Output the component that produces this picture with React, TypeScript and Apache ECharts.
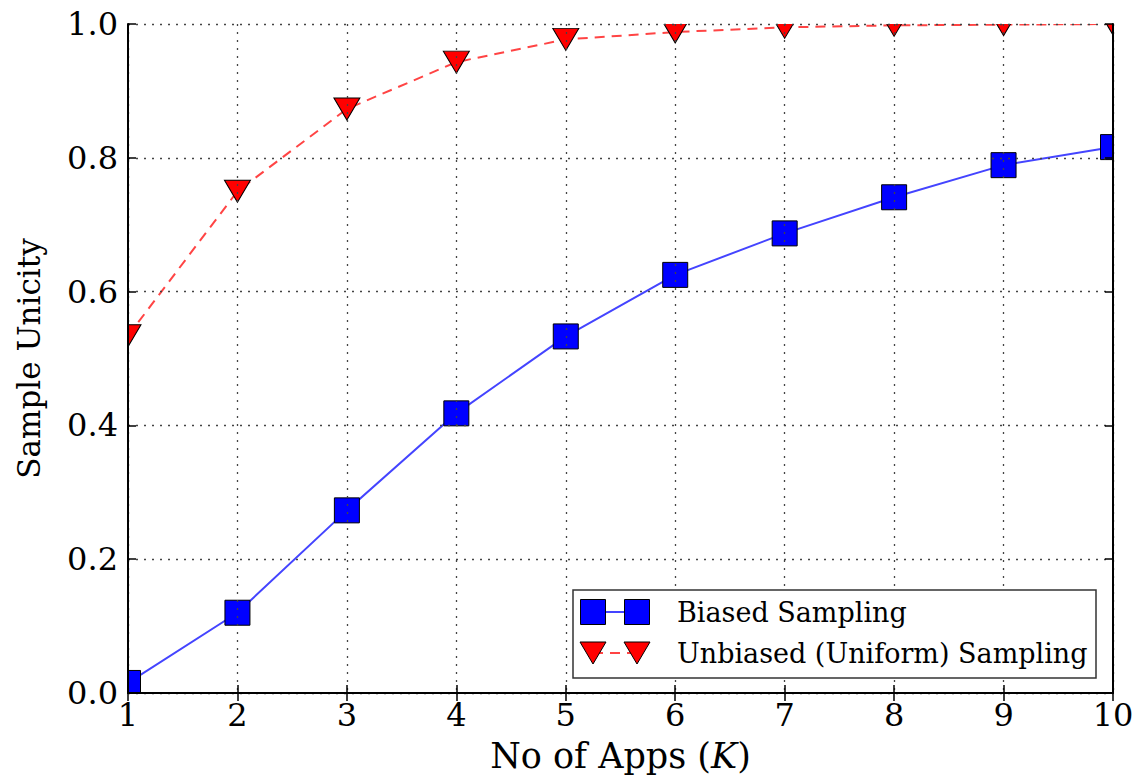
import React, { useEffect, useRef } from "react";
import * as echarts from "echarts";

// Number of apps K on the x axis
const apps = [1, 2, 3, 4, 5, 6, 7, 8, 9, 10];
// Sample unicity for each sampling strategy
const biasedSampling = [0.015, 0.12, 0.273, 0.418, 0.533, 0.625, 0.687, 0.741, 0.789, 0.816];
const unbiasedSampling = [0.534, 0.75, 0.873, 0.943, 0.977, 0.988, 0.995, 0.998, 0.999, 1.0];

const seriesNames = ["Biased Sampling", "Unbiased (Uniform) Sampling"];

const FONT = "DejaVu Serif";
const W = 1136;
const H = 781;
const GRID = { left: 128, top: 24, right: 1113, bottom: 693 };

export default function App() {
  const ref = useRef<HTMLDivElement>(null);

  useEffect(() => {
    if (!ref.current) return;
    const chart = echarts.init(ref.current, null, { renderer: "svg" });

    const tick = { show: true, inside: true, length: 8, lineStyle: { color: "#000", width: 1.5 } };
    const axisLine = { show: true, lineStyle: { color: "#000", width: 2 } };
    const gridLine = { show: true, lineStyle: { color: "#444", width: 1.3, type: [2, 6] as number[] } };

    // White masks outside the plot area so markers on the frame look clipped
    const masks = [
      { x: 0, y: 0, width: W, height: GRID.top },
      { x: 0, y: GRID.bottom, width: W, height: H - GRID.bottom },
      { x: 0, y: 0, width: GRID.left, height: H },
      { x: GRID.right, y: 0, width: W - GRID.right, height: H },
    ].map((r) => ({
      type: "rect",
      z: 5,
      silent: true,
      shape: r,
      style: { fill: "#fff" },
    }));

    // Legend box with two markers joined by the series line
    const lgX = 573, lgY = 590, lgW = 523, lgH = 88;
    const m1 = 593, m2 = 637, row1 = 612, row2 = 653, textX = 677;
    const legend = {
      type: "group",
      z: 20,
      children: [
        {
          type: "rect",
          z: 20,
          shape: { x: lgX, y: lgY, width: lgW, height: lgH },
          style: { fill: "#fff", stroke: "#333", lineWidth: 1.5 },
        },
        {
          type: "line",
          z: 21,
          shape: { x1: m1, y1: row1, x2: m2, y2: row1 },
          style: { stroke: "#4444ff", lineWidth: 2 },
        },
        ...[m1, m2].map((cx) => ({
          type: "rect",
          z: 22,
          shape: { x: cx - 12.5, y: row1 - 12.5, width: 25, height: 25 },
          style: { fill: "#0000ff", stroke: "#000", lineWidth: 1 },
        })),
        {
          type: "line",
          z: 21,
          shape: { x1: m1, y1: row2, x2: m2, y2: row2 },
          style: { stroke: "#ff4444", lineWidth: 2, lineDash: [10, 7] },
        },
        ...[m1, m2].map((cx) => ({
          type: "polygon",
          z: 22,
          shape: {
            points: [
              [cx - 13, row2 - 11],
              [cx + 13, row2 - 11],
              [cx, row2 + 11],
            ],
          },
          style: { fill: "#ff0000", stroke: "#000", lineWidth: 1 },
        })),
        ...seriesNames.map((name, i) => ({
          type: "text",
          z: 22,
          x: textX,
          y: i === 0 ? row1 : row2,
          style: {
            text: name,
            font: `27px '${FONT}'`,
            fill: "#000",
            textVerticalAlign: "middle",
            verticalAlign: "middle",
          },
        })),
      ],
    };

    const toPairs = (ys: number[]) => apps.map((x, i) => [x, ys[i]]);

    chart.setOption({
      animation: false,
      backgroundColor: "#fff",
      textStyle: { fontFamily: FONT },
      grid: {
        left: GRID.left,
        top: GRID.top,
        width: GRID.right - GRID.left,
        height: GRID.bottom - GRID.top,
        containLabel: false,
        outerBoundsMode: "none",
      },
      xAxis: [
        {
          type: "value",
          min: 1,
          max: 10,
          interval: 1,
          z: 10,
          axisLine,
          axisTick: tick,
          splitLine: gridLine,
          axisLabel: { color: "#000", fontSize: 32, fontFamily: FONT, margin: 6 },
          name: "No of Apps ({k|K})",
          nameLocation: "middle",
          nameGap: 45,
          nameTextStyle: {
            color: "#000",
            fontSize: 35,
            fontFamily: FONT,
            rich: { k: { fontStyle: "italic", fontSize: 35, fontFamily: FONT, color: "#000" } },
          },
        },
        {
          type: "value",
          position: "top",
          min: 1,
          max: 10,
          interval: 1,
          z: 10,
          axisLine,
          axisTick: tick,
          splitLine: { show: false },
          axisLabel: { show: false },
        },
      ],
      yAxis: [
        {
          type: "value",
          min: 0,
          max: 1,
          interval: 0.2,
          z: 10,
          axisLine,
          axisTick: tick,
          splitLine: gridLine,
          axisLabel: {
            color: "#000",
            fontSize: 32,
            fontFamily: FONT,
            margin: 10,
            formatter: (v: number) => v.toFixed(1),
          },
          name: "Sample Unicity",
          nameLocation: "middle",
          nameGap: 84,
          nameTextStyle: { color: "#000", fontSize: 31, fontFamily: FONT },
        },
        {
          type: "value",
          position: "right",
          min: 0,
          max: 1,
          interval: 0.2,
          z: 10,
          axisLine,
          axisTick: tick,
          splitLine: { show: false },
          axisLabel: { show: false },
        },
      ],
      graphic: { elements: [...masks, legend] },
      series: [
        {
          name: seriesNames[0],
          type: "line",
          xAxisIndex: 0,
          yAxisIndex: 0,
          clip: false,
          data: toPairs(biasedSampling),
          symbol: "rect",
          symbolSize: 25,
          itemStyle: { color: "#0000ff", borderColor: "#000", borderWidth: 1 },
          lineStyle: { color: "#4444ff", width: 2 },
        },
        {
          name: seriesNames[1],
          type: "line",
          xAxisIndex: 0,
          yAxisIndex: 0,
          clip: false,
          data: toPairs(unbiasedSampling),
          symbol: "triangle",
          symbolRotate: 180,
          symbolSize: [26, 22],
          itemStyle: { color: "#ff0000", borderColor: "#000", borderWidth: 1 },
          lineStyle: { color: "#ff4444", width: 2, type: [10, 7] },
        },
      ],
    });

    return () => chart.dispose();
  }, []);

  return (
    <div
      ref={ref}
      style={{ position: "absolute", left: 0, top: 0, width: W, height: H }}
    />
  );
}
